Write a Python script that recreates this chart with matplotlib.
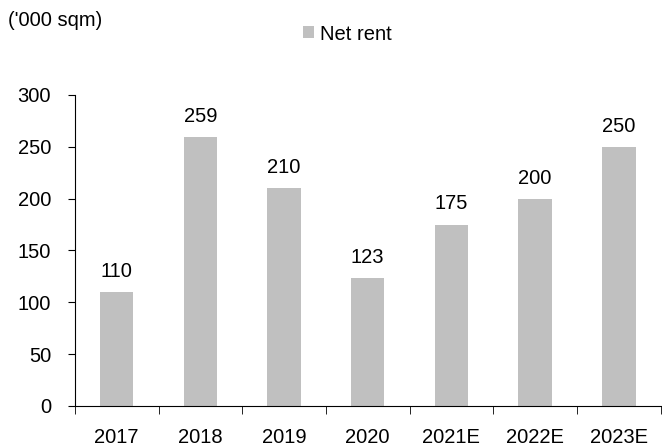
import matplotlib.pyplot as plt
import numpy as np

plt.rcParams['font.family'] = ['Liberation Sans', 'DejaVu Sans']

years = ['2017', '2018', '2019', '2020', '2021E', '2022E', '2023E']
net_rent = [110, 259, 210, 123, 175, 200, 250]
bar_color = '#c0c0c0'
fs = 14.5

fig = plt.figure(figsize=(6.62, 4.48), dpi=100)
ax = fig.add_axes([0.113, 0.094, 0.885, 0.694])

x = np.arange(len(years))
bars = ax.bar(x, net_rent, width=0.4, color=bar_color, label='Net rent')
for xi, v in zip(x, net_rent):
    ax.annotate(str(v), (xi, v), xytext=(0, 8), textcoords='offset points',
                ha='center', va='bottom', fontsize=fs)

ax.set_xlim(-0.5, len(years) - 0.5)
ax.set_ylim(0, 300)
ax.set_yticks(range(0, 301, 50))
ax.set_xticks(x)
ax.set_xticklabels(years, fontsize=fs)
ax.tick_params(axis='x', length=0, pad=16)
ax.set_xticks(np.arange(-0.5, len(years), 1), minor=True)
ax.tick_params(axis='x', which='minor', length=6, direction='out')
ax.tick_params(axis='y', labelsize=fs, length=5, direction='out', pad=12)
for s in ['top', 'right']:
    ax.spines[s].set_visible(False)

fig.text(0.012, 0.955, "('000 sqm)", fontsize=14.5, va='center')
fig.legend(handles=[bars], loc='center', bbox_to_anchor=(0.525, 0.924),
           frameon=False, fontsize=fs, handlelength=0.55, handleheight=0.55,
           handletextpad=0.3)

fig.savefig('out.png', dpi=100)
